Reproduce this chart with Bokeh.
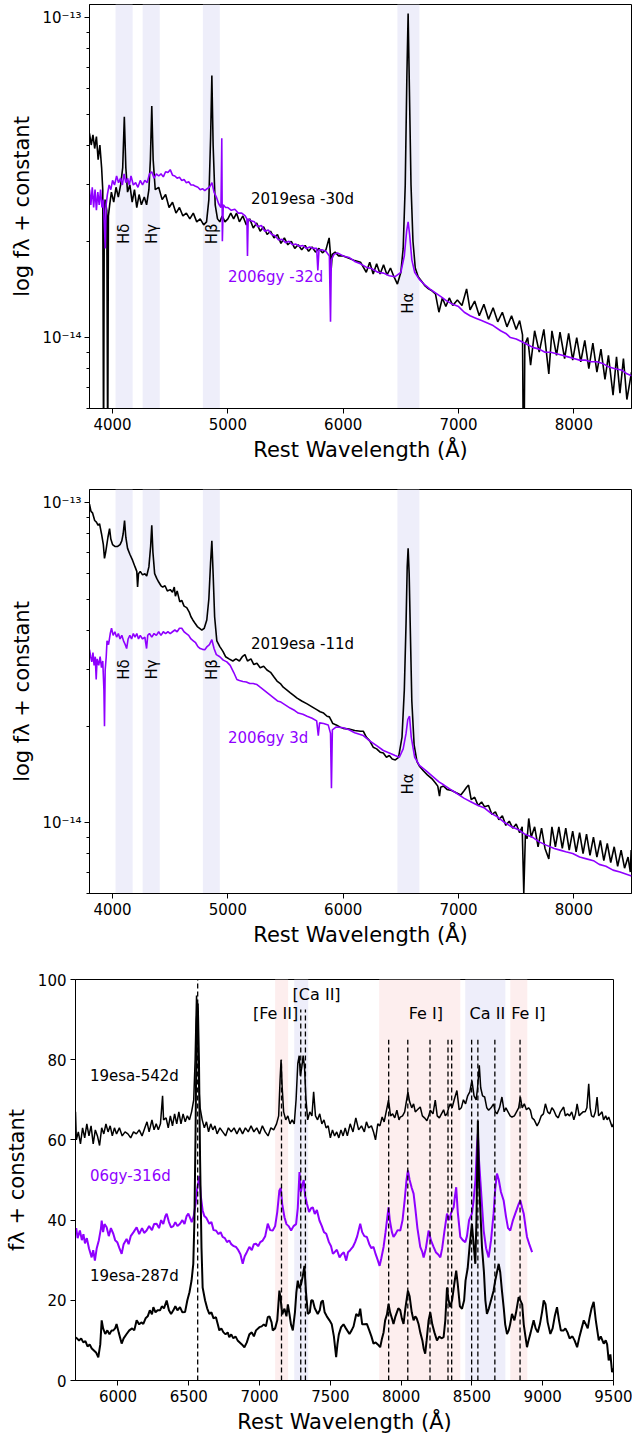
import math
from bokeh.plotting import figure
from bokeh.models import (Range1d, FixedTicker, Label, BoxAnnotation, ColumnDataSource)
from bokeh.embed import file_html
from bokeh.resources import INLINE

FONT = "DejaVu Sans"
PURPLE = "#8f00ff"
LAV = "#eeeefa"
PINK = "#fdeeee"
FLUX_UNIT = 1e-14

# ---------------- data: panel 1 (flux in units of 1e-14) ----------------
esa_m30 = [(3800,4.35),(3815,4.0),(3830,4.3),(3845,3.9),(3860,4.25),(3875,3.6),(3890,4.0),(3905,3.4),
 (3915,2.9),(3922,0.4),(3928,2.5),(3935,2.7),(3950,2.5),(3958,0.4),(3964,2.4),(3975,2.6),(3990,2.85),
 (4010,2.65),(4030,2.95),(4050,2.75),(4070,3.0),(4088,3.4),(4102,4.9),(4115,3.4),(4130,2.85),(4150,3.0),
 (4170,2.65),(4190,2.9),(4210,2.55),(4230,2.8),(4250,2.6),(4275,2.75),(4295,2.6),(4315,2.9),(4328,3.6),
 (4340,5.3),(4352,3.6),(4370,2.9),(4400,2.95),(4430,2.7),(4460,2.8),(4490,2.55),(4520,2.65),(4550,2.45),
 (4580,2.55),(4610,2.4),(4640,2.45),(4670,2.35),(4700,2.45),(4730,2.3),(4760,2.35),(4790,2.25),(4815,2.3),
 (4835,2.7),(4850,4.2),(4861,6.6),(4872,4.0),(4890,2.6),(4910,2.35),(4930,2.3),(4950,2.4),(4975,2.3),
 (5000,2.35),(5025,2.45),(5050,2.35),(5075,2.45),(5100,2.3),(5130,2.4),(5160,2.25),(5190,2.35),(5220,2.2),
 (5250,2.28),(5280,2.15),(5310,2.22),(5340,2.1),(5370,2.15),(5400,2.05),(5430,2.1),(5460,1.97),(5490,2.05),
 (5520,1.95),(5550,2.0),(5580,1.9),(5610,1.95),(5640,1.88),(5670,1.94),(5700,1.86),(5730,1.92),(5760,1.85),
 (5790,1.9),(5820,1.84),(5850,1.88),(5878,2.05),(5888,1.85),(5895,1.62),(5905,1.82),(5930,1.85),(5960,1.8),
 (6000,1.8),(6050,1.77),(6100,1.74),(6150,1.72),(6200,1.6),(6230,1.72),(6260,1.58),(6290,1.7),(6320,1.58),
 (6350,1.69),(6380,1.57),(6410,1.65),(6440,1.55),(6470,1.47),(6500,1.6),(6520,1.9),(6538,3.0),(6552,6.5),
 (6563,10.3),(6574,6.0),(6588,3.0),(6605,2.0),(6625,1.65),(6650,1.55),(6680,1.5),(6710,1.45),(6740,1.42),
 (6770,1.4),(6800,1.37),(6830,1.2),(6860,1.33),(6890,1.25),(6920,1.33),(6950,1.26),(6990,1.31),(7030,1.26),
 (7070,1.42),(7100,1.22),(7140,1.3),(7180,1.17),(7220,1.27),(7260,1.14),(7300,1.24),(7340,1.12),(7380,1.2),
 (7420,1.08),(7460,1.17),(7500,1.06),(7530,1.13),(7555,1.02),(7565,0.3),(7575,0.95),(7600,1.0),(7625,0.82),
 (7660,1.05),(7700,0.9),(7740,1.06),(7783,0.77),(7810,1.05),(7850,0.88),(7880,1.04),(7920,0.86),(7955,1.03),
 (7990,0.85),(8025,1.0),(8060,0.84),(8095,0.98),(8130,0.8),(8165,0.96),(8200,0.78),(8235,0.92),(8270,0.74),
 (8300,0.88),(8340,0.66),(8370,0.87),(8400,0.67),(8430,0.86),(8460,0.64),(8500,0.78)]

gy_m32 = [(3800,2.9),(3812,2.6),(3824,2.95),(3836,2.55),(3848,2.9),(3860,2.5),(3872,2.85),(3884,2.6),
 (3896,2.9),(3908,2.55),(3920,2.7),(3930,2.2),(3937,1.9),(3944,2.6),(3955,2.8),(3970,3.0),(3985,2.9),
 (4000,3.1),(4017,3.0),(4035,3.2),(4052,3.05),(4070,3.15),(4085,3.0),(4100,3.25),(4115,3.05),(4130,3.15),
 (4145,3.0),(4160,3.2),(4180,3.0),(4200,3.05),(4220,2.95),(4240,3.1),(4260,3.0),(4280,3.1),(4300,3.05),
 (4320,3.25),(4340,3.3),(4360,3.15),(4380,3.25),(4400,3.2),(4420,3.25),(4440,3.18),(4460,3.3),(4480,3.28),
 (4500,3.35),(4520,3.22),(4540,3.2),(4560,3.15),(4580,3.17),(4600,3.1),(4620,3.12),(4640,3.05),(4660,3.07),
 (4680,3.0),(4700,3.0),(4720,2.97),(4740,2.95),(4760,2.9),(4780,2.92),(4800,2.88),(4820,2.92),(4840,2.95),
 (4862,3.05),(4880,2.85),(4900,2.75),(4920,2.62),(4940,2.55),(4947,4.2),(4952,2.0),(4960,2.6),(4980,2.55),
 (5000,2.55),(5030,2.5),(5060,2.52),(5090,2.45),(5120,2.45),(5150,2.4),(5165,2.35),(5170,1.8),(5176,2.35),
 (5200,2.32),(5230,2.3),(5260,2.22),(5290,2.24),(5320,2.15),(5350,2.17),(5380,2.1),(5410,2.08),(5440,2.02),
 (5470,2.03),(5500,1.98),(5530,2.0),(5560,1.95),(5590,1.96),(5620,1.93),(5650,1.94),(5680,1.9),(5710,1.92),
 (5740,1.9),(5770,1.9),(5780,1.62),(5790,1.88),(5820,1.88),(5850,1.86),(5880,1.8),(5890,1.12),(5897,1.75),
 (5920,1.82),(5950,1.84),(6000,1.8),(6050,1.78),(6100,1.73),(6150,1.7),(6200,1.66),(6250,1.64),(6300,1.6),
 (6350,1.59),(6400,1.56),(6450,1.55),(6500,1.6),(6530,1.8),(6550,2.15),(6563,2.3),(6576,2.1),(6595,1.75),
 (6620,1.6),(6660,1.52),(6700,1.47),(6750,1.42),(6800,1.38),(6850,1.34),(6900,1.3),(6950,1.27),(7000,1.25),
 (7050,1.2),(7100,1.17),(7150,1.15),(7200,1.13),(7250,1.11),(7300,1.09),(7365,1.05),(7410,1.03),(7450,1.0),
 (7500,0.99),(7550,0.97),(7600,0.95),(7650,0.93),(7700,0.92),(7750,0.9),(7800,0.9),(7850,0.89),(7900,0.88),
 (7950,0.87),(8000,0.86),(8050,0.85),(8100,0.85),(8150,0.84),(8200,0.84),(8250,0.83),(8300,0.81),(8350,0.8),
 (8420,0.79),(8460,0.77),(8500,0.76)]

# ---------------- data: panel 2 (flux in units of 1e-14) ----------------
esa_m11 = [(3800,9.9),(3813,9.4),(3826,9.3),(3845,8.8),(3860,8.7),(3875,8.5),(3887,8.6),(3904,8.0),(3920,7.4),
 (3930,6.7),(3940,7.0),(3948,7.3),(3960,7.8),(3974,8.3),(3985,7.7),(4000,7.4),(4020,7.3),(4044,7.3),(4065,7.4),
 (4080,7.6),(4092,8.0),(4104,8.8),(4115,7.8),(4130,7.2),(4150,6.9),(4174,6.6),(4195,6.3),(4210,6.1),(4217,5.45),
 (4225,6.0),(4240,6.1),(4260,5.95),(4280,6.0),(4296,5.9),(4315,6.3),(4330,7.3),(4340,8.5),(4350,7.0),(4365,6.0),
 (4383,5.8),(4400,5.65),(4420,5.5),(4435,5.45),(4455,5.5),(4475,5.3),(4500,5.35),(4520,5.25),(4535,5.45),
 (4545,5.1),(4560,5.3),(4583,4.9),(4600,4.95),(4620,4.75),(4643,4.7),(4665,4.55),(4680,4.4),(4696,4.3),
 (4715,4.2),(4735,4.1),(4755,4.05),(4774,4.0),(4795,4.05),(4817,4.3),(4835,5.0),(4850,6.5),(4861,7.6),
 (4872,6.0),(4885,4.4),(4904,3.7),(4930,3.55),(4957,3.43),(4980,3.3),(5010,3.25),(5043,3.2),(5070,3.25),
 (5100,3.2),(5125,3.3),(5148,3.35),(5170,3.2),(5200,3.25),(5225,3.12),(5252,3.15),(5280,3.05),(5310,3.08),
 (5339,3.0),(5370,2.95),(5400,2.85),(5426,2.77),(5455,2.72),(5480,2.65),(5510,2.6),(5539,2.55),(5570,2.5),
 (5600,2.45),(5640,2.4),(5687,2.35),(5730,2.3),(5774,2.25),(5800,2.22),(5830,2.2),(5860,2.15),(5880,2.14),
 (5895,2.09),(5910,2.04),(5940,2.02),(5970,1.99),(6000,1.97),(6050,1.96),(6100,1.94),(6150,1.93),(6174,1.93),
 (6200,1.85),(6230,1.8),(6260,1.72),(6290,1.7),(6320,1.66),(6348,1.65),(6375,1.6),(6400,1.62),(6425,1.58),
 (6452,1.57),(6480,1.6),(6510,1.85),(6530,2.6),(6545,4.2),(6555,6.3),(6563,7.2),(6572,6.0),(6582,4.0),
 (6595,2.4),(6615,1.75),(6640,1.55),(6661,1.5),(6697,1.45),(6730,1.41),(6770,1.37),(6800,1.33),(6820,1.3),
 (6835,1.21),(6845,1.29),(6870,1.3),(6900,1.27),(6940,1.26),(6980,1.24),(7020,1.22),(7050,1.26),(7070,1.29),
 (7087,1.31),(7110,1.18),(7140,1.2),(7170,1.13),(7200,1.16),(7226,1.12),(7260,1.13),(7290,1.06),(7320,1.08),
 (7350,1.02),(7380,1.05),(7410,0.98),(7440,1.01),(7470,0.96),(7500,0.99),(7530,0.93),(7552,0.97),(7566,0.6),
 (7580,0.92),(7595,0.89),(7609,1.03),(7630,0.9),(7660,0.97),(7690,0.84),(7720,0.96),(7750,0.83),(7783,0.77),
 (7810,0.97),(7840,0.84),(7870,0.97),(7900,0.83),(7930,0.96),(7960,0.82),(7990,0.94),(8020,0.81),(8050,0.93),
 (8080,0.8),(8110,0.92),(8140,0.79),(8170,0.9),(8200,0.78),(8230,0.88),(8260,0.76),(8290,0.86),(8320,0.75),
 (8350,0.84),(8380,0.73),(8410,0.82),(8440,0.72),(8470,0.78),(8490,0.7),(8497,0.82),(8500,0.71)]

gy_p3 = [(3800,3.47),(3810,3.3),(3820,3.18),(3830,3.4),(3840,3.1),(3850,3.3),(3858,2.8),(3866,3.25),(3880,3.1),
 (3892,3.3),(3904,3.05),(3915,3.2),(3925,2.6),(3930,2.0),(3936,3.0),(3945,3.3),(3952,3.7),(3965,3.6),(3980,3.9),
 (3991,4.05),(4005,3.85),(4020,3.95),(4035,3.8),(4050,3.9),(4065,3.75),(4080,3.85),(4095,3.7),(4110,3.6),
 (4122,3.5),(4135,3.75),(4150,3.85),(4165,3.75),(4180,3.9),(4195,3.8),(4210,3.9),(4225,3.75),(4240,3.85),
 (4260,3.75),(4280,3.8),(4295,3.5),(4305,3.85),(4320,3.9),(4340,3.8),(4360,3.9),(4380,3.85),(4400,3.95),
 (4420,3.85),(4440,3.95),(4460,3.9),(4480,3.95),(4500,3.9),(4520,3.95),(4540,4.0),(4560,3.95),(4580,4.05),
 (4600,4.05),(4620,3.95),(4640,3.9),(4660,3.85),(4680,3.75),(4700,3.7),(4720,3.65),(4740,3.55),(4760,3.5),
 (4780,3.48),(4800,3.47),(4820,3.55),(4840,3.6),(4861,3.73),(4880,3.5),(4900,3.35),(4930,3.3),(4960,3.22),
 (4991,3.18),(5020,3.1),(5050,2.95),(5078,2.8),(5100,2.78),(5130,2.76),(5160,2.75),(5190,2.72),(5220,2.72),
 (5252,2.7),(5280,2.65),(5310,2.6),(5340,2.55),(5370,2.5),(5400,2.45),(5430,2.4),(5460,2.38),(5500,2.33),
 (5540,2.28),(5580,2.24),(5610,2.2),(5650,2.18),(5687,2.15),(5730,2.12),(5770,2.08),(5784,1.87),(5795,2.05),
 (5830,2.04),(5870,2.02),(5890,1.9),(5898,1.28),(5906,1.95),(5940,1.99),(6000,1.98),(6050,1.95),(6100,1.91),
 (6174,1.87),(6230,1.8),(6290,1.74),(6348,1.68),(6400,1.65),(6450,1.62),(6487,1.6),(6520,1.7),(6545,1.9),
 (6560,2.1),(6575,2.15),(6590,1.85),(6620,1.6),(6661,1.51),(6720,1.45),(6780,1.39),(6830,1.34),(6874,1.31),
 (6930,1.27),(6990,1.23),(7050,1.19),(7110,1.16),(7170,1.13),(7226,1.11),(7280,1.07),(7340,1.04),(7400,1.0),
 (7460,0.97),(7520,0.95),(7574,0.92),(7640,0.9),(7700,0.87),(7760,0.85),(7830,0.83),(7880,0.82),(7930,0.81),
 (7990,0.8),(8050,0.78),(8110,0.77),(8170,0.76),(8220,0.74),(8278,0.73),(8340,0.71),(8400,0.7),(8450,0.69),
 (8500,0.68)]

# ---------------- data: panel 3 ----------------
esa_542 = [(5700,67),(5706,60),(5720,62),(5735,59),(5750,63),(5765,60.5),(5780,64),(5795,61),(5810,63.5),
 (5825,59),(5840,62.5),(5855,61),(5870,58.6),(5885,63),(5900,61.5),(5915,64),(5930,62),(5945,63.5),(5960,61),
 (5975,63),(5990,61.5),(6010,63),(6030,61),(6050,62),(6070,61.5),(6090,60.5),(6110,62),(6130,61.5),(6150,62.5),
 (6170,61),(6190,63),(6205,64.5),(6220,62),(6240,65),(6255,62.5),(6270,64),(6285,62.5),(6300,64),(6315,71),
 (6322,65),(6340,65.5),(6355,63),(6370,66),(6385,63.5),(6400,66.5),(6415,64),(6430,67),(6445,64),(6460,66.5),
 (6475,64.5),(6490,66),(6505,65),(6520,67),(6535,70),(6545,80),(6555,96),(6563,88),(6570,74),(6580,68),
 (6595,65),(6610,63),(6625,64.5),(6640,62),(6655,64),(6670,62.5),(6685,63.5),(6700,61.5),(6720,63),(6740,62),
 (6760,61),(6780,63),(6800,62),(6820,63),(6840,61.5),(6860,63),(6880,61.5),(6900,63),(6920,62),(6940,63.5),
 (6960,62),(6980,63),(7000,61.5),(7020,63.5),(7040,62),(7060,61),(7080,63),(7100,62.5),(7120,64),(7135,66),
 (7145,75),(7152,80),(7160,73),(7170,67),(7185,65),(7200,66),(7215,64),(7230,65),(7245,64),(7258,70),(7270,79),
 (7280,81),(7288,76),(7298,78),(7308,81),(7318,78),(7328,70),(7340,65),(7355,67),(7370,66),(7382,72),(7395,66),
 (7410,65),(7425,66.5),(7440,64),(7455,65),(7470,63),(7485,63.5),(7500,60.5),(7515,62.5),(7530,61),(7545,62),
 (7560,60.5),(7575,62.5),(7590,61),(7605,63),(7620,61),(7640,64),(7660,62),(7680,65.5),(7700,62.5),(7720,63.5),
 (7740,62),(7755,64.5),(7770,63),(7790,63.5),(7805,62),(7819,60),(7835,64),(7850,63.5),(7866,65.7),(7880,64.5),
 (7911,69.9),(7925,66),(7940,66.5),(7955,65.5),(7970,67.4),(7985,65),(7994,65.7),(8010,66),(8025,67),(8048,71.9),
 (8060,69.5),(8075,68),(8088,69),(8100,67),(8115,67.5),(8135,68.2),(8150,66),(8165,65.5),(8182,64.8),(8195,66),
 (8206,67.4),(8225,66.5),(8241,69.9),(8255,66),(8270,65.5),(8285,66.5),(8300,67.5),(8312,66),(8324,66.5),
 (8336,68),(8347,69),(8360,68),(8375,70),(8394,72.3),(8410,67.5),(8425,68),(8440,70),(8455,69),(8470,71),
 (8485,72),(8500,74.8),(8515,71),(8530,70),(8540,73),(8552,78.6),(8562,73),(8575,71),(8590,70.7),(8605,68),
 (8618,67.4),(8635,68),(8653,69),(8665,67),(8677,66.5),(8695,68),(8712,70.7),(8728,67),(8740,68),(8755,67),
 (8770,66),(8783,65.7),(8800,66),(8815,67),(8830,68),(8842,70.7),(8855,68),(8870,69),(8885,67.5),(8900,68),
 (8913,67.4),(8925,65.5),(8940,65),(8960,63.5),(8975,64.5),(8990,66),(9005,66.5),(9019,69),(9035,67),(9050,66.5),
 (9065,68),(9078,67.4),(9095,66),(9110,65.5),(9125,67),(9148,68.2),(9160,66),(9175,66.5),(9190,66),(9205,67),
 (9220,65),(9232,66.5),(9243,69),(9258,66),(9270,66.5),(9285,67),(9300,67),(9312,68),(9325,74),(9335,68),
 (9345,66),(9360,65.7),(9372,67),(9384,70.7),(9395,66),(9408,66.5),(9419,67),(9430,65),(9445,66),(9455,65),
 (9466,65.7),(9478,64.5),(9490,63.2),(9500,64)]

gy_316 = [(5696,36.5),(5705,38),(5715,35.5),(5731,37.4),(5745,35),(5756,36.5),(5767,34.2),(5780,35.5),(5795,33),
 (5814,30.7),(5825,32.5),(5837,29.9),(5850,33),(5865,35),(5880,38),(5885,39.9),(5895,37),(5905,39),(5920,38.2),
 (5935,36),(5950,38),(5967,36.6),(5980,35),(5995,34.5),(6010,33),(6026,31.6),(6040,34),(6061,35.3),(6075,34),
 (6090,36),(6110,37),(6132,38.2),(6150,36.5),(6170,38),(6185,36.8),(6202,37.4),(6220,38.5),(6240,37.5),(6255,39),
 (6273,39.1),(6290,38),(6305,40),(6320,39),(6335,41),(6344,41.6),(6360,39.5),(6375,38.2),(6391,38.5),(6405,39.5),
 (6420,38.5),(6438,39.1),(6455,40),(6470,39),(6485,41),(6497,41.6),(6510,40.5),(6521,39.5),(6535,41),(6548,44),
 (6560,48),(6575,51),(6585,46),(6598,42.4),(6610,41),(6625,40.5),(6645,39.1),(6660,39.5),(6675,37.5),(6692,37.4),
 (6710,36.5),(6725,37),(6739,35.8),(6755,35.5),(6770,34.5),(6786,34.9),(6800,34),(6818,33.5),(6834,33.3),
 (6850,32.5),(6865,31.5),(6881,29.1),(6895,31),(6910,32),(6928,33.3),(6945,32.5),(6960,34),(6975,34.1),
 (6990,33.5),(7005,34.5),(7022,34.9),(7040,36),(7058,39.1),(7075,37.5),(7093,37.4),(7110,38.5),(7125,42),
 (7140,47.4),(7150,48),(7160,44),(7176,40.7),(7190,39),(7205,38.5),(7223,37.4),(7240,38.5),(7258,39),(7270,43),
 (7282,52),(7292,47),(7300,48.5),(7312,50),(7322,46),(7335,44),(7350,42),(7365,43),(7376,43.2),(7390,41.5),
 (7405,42.5),(7423,39.9),(7440,38.5),(7455,37),(7471,36.6),(7490,34.5),(7505,33.5),(7518,31.6),(7530,32),
 (7546,32.6),(7565,30.7),(7580,31.5),(7595,32),(7612,29.9),(7625,32),(7640,32.5),(7659,33.3),(7675,34.5),
 (7690,36),(7711,39.1),(7725,37),(7740,36),(7758,35.8),(7775,34),(7790,33),(7805,33.3),(7820,31.5),(7835,30),
 (7848,28.6),(7860,30.5),(7876,33.3),(7890,37),(7900,40),(7911,43.2),(7920,40),(7935,37),(7946,35.8),(7960,36.5),
 (7975,37.5),(7994,37.4),(8010,40),(8025,45),(8038,50),(8048,52.4),(8060,50),(8075,48),(8088,46.6),(8100,43),
 (8115,38),(8135,33.3),(8150,32),(8159,30.7),(8175,33),(8194,37.4),(8210,35),(8229,33.3),(8245,32),(8260,31.5),
 (8277,30.7),(8290,33),(8305,37),(8324,41.6),(8340,40),(8355,42),(8371,43.2),(8380,46),(8389,48.2),(8400,42),
 (8418,35.8),(8435,35),(8453,34.5),(8465,36),(8480,40),(8500,41.6),(8512,45),(8525,50),(8535,58),(8542,61.5),
 (8550,55),(8565,47),(8583,37.4),(8600,33),(8618,30.7),(8635,35),(8653,41.6),(8665,48),(8677,51.6),(8690,50),
 (8705,47),(8724,44.9),(8740,41),(8755,38),(8771,37.4),(8790,40),(8806,41.6),(8820,43),(8830,44),(8842,44.9),
 (8855,43),(8866,41.6),(8880,38),(8889,35.8),(8905,34),(8915,33),(8925,32)]

esa_287 = [(5696,10.8),(5710,10.5),(5725,10.0),(5740,10.5),(5755,9.5),(5770,9.8),(5785,8.5),(5800,9),(5815,8),
 (5830,7.5),(5845,7),(5861,5.8),(5875,9),(5885,15.0),(5895,13),(5910,11.6),(5925,12.5),(5940,11.5),(5955,12.5),
 (5967,12.5),(5980,13),(5990,14.1),(6005,12),(6026,9.2),(6040,10.5),(6061,11.6),(6080,12.5),(6100,13),(6115,12.5),
 (6132,15.0),(6150,14),(6165,14.5),(6179,14.1),(6195,15.5),(6210,16),(6225,17.5),(6240,16.5),(6250,18.3),
 (6265,17),(6280,17.5),(6297,17.5),(6310,18.5),(6325,18),(6344,19.95),(6360,17.5),(6375,16.6),(6391,17.5),
 (6405,18.5),(6420,17.5),(6438,18.3),(6455,17),(6474,17.1),(6490,20),(6505,22),(6520,25),(6532,29.1),(6540,40),
 (6548,62),(6556,90),(6564,94),(6572,80),(6580,55),(6590,33),(6598,23.2),(6615,20),(6630,18),(6645,16.6),
 (6660,17),(6675,15.5),(6692,15.8),(6705,14),(6716,12.5),(6730,13),(6745,12),(6760,11.5),(6775,12),(6786,10.8),
 (6800,11.5),(6815,10.5),(6830,11),(6845,10),(6860,9.5),(6875,9),(6893,8.3),(6910,9.5),(6928,11.5),(6945,12),
 (6960,11),(6975,12.5),(6999,13.3),(7015,13.5),(7030,14),(7045,13.5),(7058,15.8),(7070,16),(7085,14.5),
 (7093,12.5),(7110,13),(7125,15),(7140,22.4),(7150,20),(7160,16.5),(7176,17.9),(7190,16),(7200,19),(7211,16.6),
 (7222,14),(7235,12.5),(7250,17),(7260,22),(7270,24.9),(7282,23),(7294,24.1),(7305,26),(7317,28.6),(7328,22),
 (7341,16.6),(7355,17),(7365,20),(7376,19.95),(7390,18),(7411,16.6),(7425,17.5),(7435,19.5),(7447,19.95),
 (7460,17),(7475,16),(7494,15.0),(7510,14),(7525,11),(7541,5.8),(7550,9),(7560,11.5),(7576,13.3),(7593,14),
 (7610,13),(7635,11.6),(7650,12.5),(7664,13.5),(7683,16.6),(7700,16),(7711,17.9),(7725,14),(7740,14),(7758,14.1),
 (7775,12.5),(7790,11),(7805,9.2),(7820,9.5),(7835,9),(7852,8.3),(7865,10.5),(7876,12),(7887,15),(7900,16.5),
 (7911,19.1),(7922,17),(7935,15.5),(7946,14.1),(7960,16),(7970,17),(7980,18),(7994,17.5),(8005,15.5),(8017,14.1),
 (8030,18),(8048,22.4),(8060,21),(8075,17),(8088,15),(8100,16),(8110,15.5),(8123,14.1),(8135,12),(8150,10),
 (8159,8),(8170,6.7),(8180,10),(8194,15.0),(8206,17),(8220,14),(8235,12),(8253,10.0),(8270,11),(8285,10.5),
 (8300,10.8),(8312,15),(8324,23.2),(8335,20),(8347,18.3),(8360,20),(8375,24),(8389,27.4),(8400,24),(8415,18.5),
 (8430,17.9),(8445,20),(8455,24.9),(8470,28),(8485,34),(8500,39.1),(8512,34),(8524,29.1),(8532,40),(8542,64.8),
 (8550,50),(8560,42),(8571,33.3),(8585,27),(8595,20),(8606,16.6),(8620,18),(8635,20),(8653,22.4),(8665,25),
 (8677,27),(8689,29.1),(8700,27),(8712,22.4),(8725,18),(8735,14),(8748,11.6),(8760,12.5),(8770,14),(8783,16.6),
 (8800,15),(8812,17),(8830,20.8),(8842,20),(8855,19),(8866,14),(8878,11),(8889,8.3),(8900,10),(8915,12),
 (8936,15.0),(8950,13),(8965,12),(8980,14),(8995,17),(9007,19.95),(9020,19),(9035,14.5),(9054,11.6),(9070,13),
 (9085,16),(9101,18.3),(9115,15),(9128,12.5),(9148,12.5),(9160,13),(9175,12),(9190,10.5),(9210,11),(9225,10),
 (9243,8.3),(9260,11),(9275,13),(9290,15.0),(9305,14),(9318,13),(9330,15.5),(9345,18),(9360,19.6),(9375,15),
 (9396,10.0),(9410,11),(9431,9.2),(9445,10),(9455,9),(9466,5.0),(9478,6.5),(9490,2.1),(9500,3)]

# line identifications
balmer_names = ["Hδ", "Hγ", "Hβ", "Hα"]
balmer_waves = [4102, 4340, 4861, 6563]
balmer_band_lo = [4026, 4261, 4783, 6470]
balmer_band_hi = [4174, 4409, 4930, 6661]

neb_waves = [6563, 7155, 7291, 7324, 7912, 8047, 8204, 8331, 8357, 8498, 8542, 8662, 8840]
neb_tops = [100, 80, 92.5, 92.5, 85, 85, 85, 85, 85, 85, 85, 85, 85]
band3_lo = [7110, 7245, 7845, 8453, 8771]
band3_hi = [7202, 7344, 8418, 8736, 8891]
band3_color = [PINK, LAV, PINK, LAV, PINK]
ion_names = ["[Fe II]", "[Ca II]", "Fe I]", "Ca II", "Fe I]"]
ion_x = [7113, 7403, 8174, 8609, 8898]
ion_y = [91.5, 96.3, 91.5, 91.5, 91.5]


def src(pairs, scale=1.0):
    return ColumnDataSource(dict(x=[p[0] for p in pairs], y=[p[1] * scale for p in pairs]))


def style_axes(p, log=False):
    p.grid.visible = False
    p.outline_line_color = "black"
    p.outline_line_width = 1
    p.background_fill_color = "white"
    p.border_fill_color = "white"
    for ax in (p.xaxis[0], p.yaxis[0]):
        ax.axis_line_color = "black"
        ax.major_tick_line_color = "black"
        ax.major_tick_in = 0
        ax.major_tick_out = 5
        ax.minor_tick_in = 0
        ax.minor_tick_out = 3
        ax.major_label_text_font = FONT
        ax.major_label_text_font_size = "15px"
        ax.major_label_text_color = "black"
        ax.axis_label_text_font = FONT
        ax.axis_label_text_font_size = "21px"
        ax.axis_label_text_font_style = "normal"
        ax.axis_label_text_color = "black"
    p.xaxis[0].minor_tick_line_color = None
    p.xaxis[0].major_label_standoff = 4
    p.xaxis[0].axis_label_standoff = 5
    p.xaxis[0].axis_label = "Rest Wavelength (Å)"
    if not log:
        p.yaxis[0].minor_tick_line_color = None
        p.yaxis[0].major_label_standoff = 4
        p.yaxis[0].axis_label_standoff = 6
    else:
        p.yaxis[0].minor_tick_line_color = "black"
        p.yaxis[0].major_label_standoff = 3
        p.yaxis[0].axis_label_standoff = 5


def log_panel(black, purple, lab_black, lab_purple, pos_black, pos_purple, h_ylab, ha_ylab, top, height):
    p = figure(width=632, height=height, x_range=Range1d(3800, 8500),
               y_range=Range1d(6.0e-15, 1.1e-13), y_axis_type="log",
               output_backend="svg", toolbar_location=None,
               min_border_left=89, min_border_right=1, min_border_top=top, min_border_bottom=72)
    style_axes(p, log=True)
    p.yaxis[0].axis_label = "log fλ + constant"
    p.xaxis[0].ticker = FixedTicker(ticks=[4000, 5000, 6000, 7000, 8000])
    minors = [k * 1e-15 for k in (6, 7, 8, 9)] + [k * 1e-14 for k in range(2, 10)]
    p.yaxis[0].ticker = FixedTicker(ticks=[1e-14, 1e-13], minor_ticks=minors)
    p.yaxis[0].major_label_overrides = {1e-14: "10⁻¹⁴", 1e-13: "10⁻¹³"}
    for lo, hi in zip(balmer_band_lo, balmer_band_hi):
        p.add_layout(BoxAnnotation(left=lo, right=hi, fill_color=LAV, fill_alpha=1.0,
                                   line_color=None, level="underlay"))
    p.line("x", "y", source=src(black, FLUX_UNIT), line_color="black", line_width=1.6)
    p.line("x", "y", source=src(purple, FLUX_UNIT), line_color=PURPLE, line_width=1.6)
    for name, w in zip(balmer_names, balmer_waves):
        yy = ha_ylab if name == "Hα" else h_ylab
        p.add_layout(Label(x=w, y=yy, text=name, angle=math.pi / 2, text_align="center",
                           text_baseline="middle", text_font=FONT, text_font_size="15px",
                           text_color="black"))
    p.add_layout(Label(x=pos_black[0], y=pos_black[1], text=lab_black, text_align="left",
                       text_baseline="middle", text_font=FONT, text_font_size="15px",
                       text_color="black"))
    p.add_layout(Label(x=pos_purple[0], y=pos_purple[1], text=lab_purple, text_align="left",
                       text_baseline="middle", text_font=FONT, text_font_size="15px",
                       text_color=PURPLE))
    return p


p1 = log_panel(esa_m30, gy_m32, "2019esa -30d", "2006gy -32d",
               (5200, 2.72e-14), (5000, 1.55e-14), 2.11e-14, 1.28e-14, 4, 480)
p2 = log_panel(esa_m11, gy_p3, "2019esa -11d", "2006gy 3d",
               (5200, 3.62e-14), (5000, 1.84e-14), 3.01e-14, 1.32e-14, 9, 485)

# ---------------- panel 3 ----------------
p3 = figure(width=632, height=473, x_range=Range1d(5700, 9500), y_range=Range1d(0, 100),
            output_backend="svg", toolbar_location=None,
            min_border_left=75, min_border_right=19, min_border_top=14, min_border_bottom=58)
style_axes(p3, log=False)
p3.yaxis[0].axis_label = "fλ + constant"
p3.xaxis[0].ticker = FixedTicker(ticks=[6000, 6500, 7000, 7500, 8000, 8500, 9000, 9500])
p3.yaxis[0].ticker = FixedTicker(ticks=[0, 20, 40, 60, 80, 100])
for lo, hi, c in zip(band3_lo, band3_hi, band3_color):
    p3.add_layout(BoxAnnotation(left=lo, right=hi, fill_color=c, fill_alpha=1.0,
                                line_color=None, level="underlay"))
p3.line("x", "y", source=src(esa_542), line_color="black", line_width=1.5)
p3.line("x", "y", source=src(gy_316), line_color=PURPLE, line_width=2)
p3.line("x", "y", source=src(esa_287), line_color="black", line_width=2)
p3.segment(x0="x", y0="y0", x1="x", y1="y1",
           source=ColumnDataSource(dict(x=neb_waves, y0=[0] * len(neb_waves), y1=neb_tops)),
           line_color="black", line_width=1.3, line_dash="5 3")
for t, x, y in zip(ion_names, ion_x, ion_y):
    p3.add_layout(Label(x=x, y=y, text=t, text_align="center", text_baseline="middle",
                        text_font=FONT, text_font_size="16px", text_color="black"))
for t, y, c in [("19esa-542d", 76, "black"), ("06gy-316d", 51, PURPLE), ("19esa-287d", 26, "black")]:
    p3.add_layout(Label(x=5802, y=y, text=t, text_align="left", text_baseline="middle",
                        text_font=FONT, text_font_size="15px", text_color=c))

# three independent roots so that the panels' frames are not aligned to each other
open("out.html", "w").write(file_html([p1, p2, p3], INLINE))
